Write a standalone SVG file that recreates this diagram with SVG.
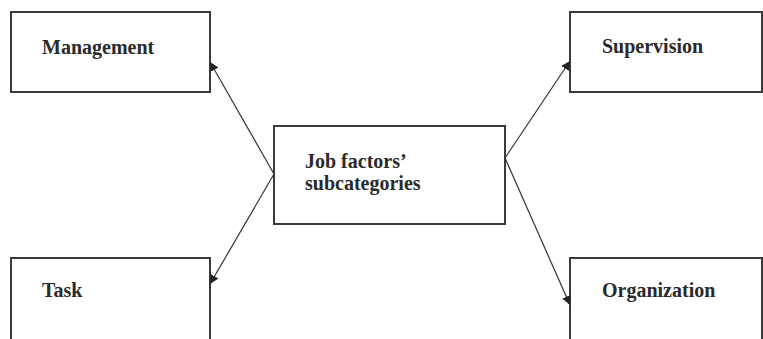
<svg xmlns="http://www.w3.org/2000/svg" width="763" height="339" viewBox="0 0 763 339">
  <style>
    .box { fill: #ffffff; stroke: #3a3a3a; stroke-width: 2; }
    .label { font-family: "Liberation Serif", "Times New Roman", serif; font-size: 20px; font-weight: bold; fill: #2a2a2a; }
    .conn { fill: none; stroke: #333333; stroke-width: 1.2; marker-end: url(#arrow); }
  </style>
  <defs>
    <marker id="arrow" viewBox="0 0 10 10" refX="10" refY="5" markerWidth="9" markerHeight="9" markerUnits="userSpaceOnUse" orient="auto">
      <path d="M0,0 L10,5 L0,10 z" fill="#222222"/>
    </marker>
  </defs>
  <rect width="763" height="339" fill="#ffffff"/>

  <g id="management">
    <rect class="box" x="11" y="12" width="199" height="80"/>
    <text class="label" x="42" y="54">Management</text>
  </g>
  <g id="supervision">
    <rect class="box" x="570" y="12" width="192" height="80"/>
    <text class="label" x="602" y="53">Supervision</text>
  </g>
  <g id="job-factors">
    <rect class="box" x="274" y="126" width="231" height="98"/>
    <text class="label" x="305" y="168">Job factors’</text>
    <text class="label" x="305" y="190">subcategories</text>
  </g>
  <g id="task">
    <rect class="box" x="11" y="258" width="199" height="90"/>
    <text class="label" x="42" y="297">Task</text>
  </g>
  <g id="organization">
    <rect class="box" x="570" y="258" width="192" height="90"/>
    <text class="label" x="602" y="297">Organization</text>
  </g>

  <g id="connectors">
    <line class="conn" x1="274" y1="174" x2="210" y2="62"/>
    <line class="conn" x1="274" y1="174" x2="210" y2="284"/>
    <line class="conn" x1="505" y1="158" x2="570" y2="61"/>
    <line class="conn" x1="505" y1="158" x2="570" y2="305"/>
  </g>
</svg>
